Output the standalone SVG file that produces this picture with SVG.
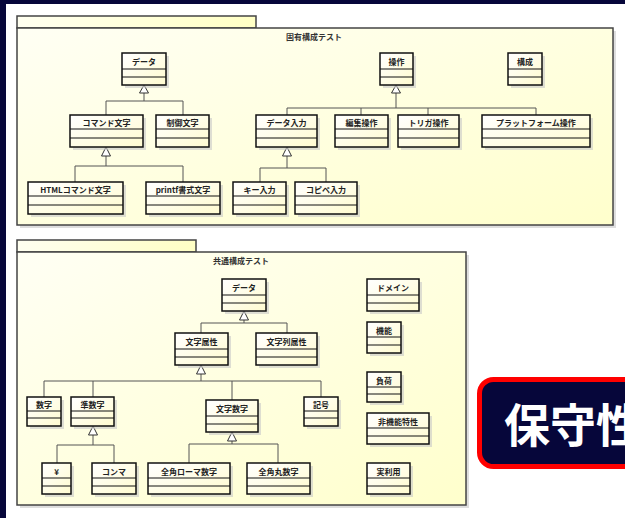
<svg xmlns="http://www.w3.org/2000/svg" width="625" height="518" viewBox="0 0 625 518">
<defs>
<linearGradient id="pkg" x1="0" y1="0" x2="1" y2="1">
<stop offset="0" stop-color="#fffff4"/>
<stop offset="1" stop-color="#ffffcc"/>
</linearGradient>
<linearGradient id="tab" x1="0" y1="0" x2="1" y2="0">
<stop offset="0" stop-color="#fffff0"/>
<stop offset="1" stop-color="#ffffc4"/>
</linearGradient>
<linearGradient id="cls" x1="0" y1="0" x2="1" y2="1">
<stop offset="0" stop-color="#ffffff"/>
<stop offset="1" stop-color="#fffbd0"/>
</linearGradient>
</defs>
<style>
.pk{fill:url(#pkg);stroke:#444;stroke-width:1.5}
.tb{fill:url(#tab);stroke:#444;stroke-width:1.5}
.sh{fill:#c8c8c8;opacity:0.6}
.c rect.b{fill:url(#cls);stroke:#111;stroke-width:1.5}
.c line{stroke:#111;stroke-width:1}
.t{font-family:"Noto Sans CJK JP","Liberation Sans",sans-serif;font-size:8px;font-weight:bold;fill:#222;text-anchor:middle}
.ttl{font-family:"Noto Sans CJK JP","Liberation Sans",sans-serif;font-size:8px;font-weight:bold;fill:#333;text-anchor:middle}
.cn line,.cn polyline{stroke:#555;stroke-width:1;fill:none}
.cn polygon{fill:#fff;stroke:#333;stroke-width:1}
</style>
<rect x="0" y="0" width="625" height="518" fill="#ffffff"/>
<rect x="0" y="0" width="625" height="4" fill="#06063a"/>
<rect x="0" y="0" width="6" height="518" fill="#06063a"/>

<g id="pkg-top">
<rect x="20" y="31" width="596" height="197" class="sh"/>
<rect x="17" y="16" width="239" height="12" class="tb"/>
<rect x="17" y="28" width="596" height="197" class="pk"/>
<text x="314" y="40" class="ttl">固有構成テスト</text>
</g>
<g id="pkg-bottom">
<rect x="20" y="255" width="449" height="253" class="sh"/>
<rect x="17" y="240" width="179" height="12" class="tb"/>
<rect x="17" y="252" width="449" height="253" class="pk"/>
<text x="241" y="264" class="ttl">共通構成テスト</text>
</g>

<g id="connectors" class="cn">
<!-- top: データ -->
<line x1="144" y1="93" x2="144" y2="101"/>
<polyline points="106,115 106,101 183,101 183,115"/>
<polygon points="144,85 139.5,93 148.5,93"/>
<!-- 操作 -->
<line x1="396" y1="93" x2="396" y2="108"/>
<polyline points="287,115 287,108 536,108 536,115"/>
<line x1="361" y1="108" x2="361" y2="115"/>
<line x1="428" y1="108" x2="428" y2="115"/>
<polygon points="396,85 391.5,93 400.5,93"/>
<!-- コマンド文字 -->
<line x1="106" y1="156" x2="106" y2="166"/>
<polyline points="75,182 75,166 183,166 183,182"/>
<polygon points="106,147 101.5,156 110.5,156"/>
<!-- データ入力 -->
<line x1="287" y1="156" x2="287" y2="168"/>
<polyline points="260,182 260,168 326,168 326,182"/>
<polygon points="287,147 282.5,156 291.5,156"/>
<!-- bottom: データ -->
<line x1="244" y1="320" x2="244" y2="323"/>
<polyline points="201,333 201,323 287,323 287,333"/>
<polygon points="244,311 239.5,320 248.5,320"/>
<!-- 文字属性 -->
<line x1="201" y1="374" x2="201" y2="381"/>
<polyline points="44,397 44,381 321,381 321,397"/>
<line x1="93" y1="381" x2="93" y2="397"/>
<line x1="232" y1="381" x2="232" y2="400"/>
<polygon points="201,365 196.5,374 205.5,374"/>
<!-- 準数字 -->
<line x1="93" y1="435" x2="93" y2="445"/>
<polyline points="57,463 57,445 114,445 114,463"/>
<polygon points="93,426 88.5,435 97.5,435"/>
<!-- 文字数字 -->
<line x1="232" y1="441" x2="232" y2="444"/>
<polyline points="189,463 189,444 278,444 278,463"/>
<polygon points="232,432 227.5,441 236.5,441"/>
</g>

<g id="n-data1" class="c"><rect x="125" y="56" width="44" height="32" class="sh"/><rect class="b" x="122" y="53" width="44" height="32"/><line x1="122" y1="69" x2="166" y2="69"/><line x1="122" y1="77" x2="166" y2="77"/><text x="144" y="65" class="t">データ</text></g>
<g id="n-sousa" class="c"><rect x="383" y="56" width="33" height="32" class="sh"/><rect class="b" x="380" y="53" width="33" height="32"/><line x1="380" y1="69" x2="413" y2="69"/><line x1="380" y1="77" x2="413" y2="77"/><text x="396.5" y="65" class="t">操作</text></g>
<g id="n-kousei" class="c"><rect x="511" y="56" width="34" height="32" class="sh"/><rect class="b" x="508" y="53" width="34" height="32"/><line x1="508" y1="69" x2="542" y2="69"/><line x1="508" y1="77" x2="542" y2="77"/><text x="525" y="65" class="t">構成</text></g>

<g id="n-command" class="c"><rect x="73" y="118" width="73" height="32" class="sh"/><rect class="b" x="70" y="115" width="73" height="32"/><line x1="70" y1="129" x2="143" y2="129"/><line x1="70" y1="138" x2="143" y2="138"/><text x="106.5" y="126" class="t">コマンド文字</text></g>
<g id="n-seigyo" class="c"><rect x="159" y="118" width="53" height="32" class="sh"/><rect class="b" x="156" y="115" width="53" height="32"/><line x1="156" y1="129" x2="209" y2="129"/><line x1="156" y1="138" x2="209" y2="138"/><text x="182.5" y="126" class="t">制御文字</text></g>
<g id="n-datainput" class="c"><rect x="259" y="118" width="61" height="32" class="sh"/><rect class="b" x="256" y="115" width="61" height="32"/><line x1="256" y1="129" x2="317" y2="129"/><line x1="256" y1="138" x2="317" y2="138"/><text x="286.5" y="126" class="t">データ入力</text></g>
<g id="n-henshu" class="c"><rect x="338" y="118" width="53" height="32" class="sh"/><rect class="b" x="335" y="115" width="53" height="32"/><line x1="335" y1="129" x2="388" y2="129"/><line x1="335" y1="138" x2="388" y2="138"/><text x="361.5" y="126" class="t">編集操作</text></g>
<g id="n-trigger" class="c"><rect x="401" y="118" width="61" height="32" class="sh"/><rect class="b" x="398" y="115" width="61" height="32"/><line x1="398" y1="129" x2="459" y2="129"/><line x1="398" y1="138" x2="459" y2="138"/><text x="428.5" y="126" class="t">トリガ操作</text></g>
<g id="n-platform" class="c"><rect x="485" y="118" width="108" height="32" class="sh"/><rect class="b" x="482" y="115" width="108" height="32"/><line x1="482" y1="129" x2="590" y2="129"/><line x1="482" y1="138" x2="590" y2="138"/><text x="536" y="126" class="t">プラットフォーム操作</text></g>

<g id="n-html" class="c"><rect x="31" y="185" width="95" height="32" class="sh"/><rect class="b" x="28" y="182" width="95" height="32"/><line x1="28" y1="196" x2="123" y2="196"/><line x1="28" y1="205" x2="123" y2="205"/><text x="75.5" y="193" class="t">HTMLコマンド文字</text></g>
<g id="n-printf" class="c"><rect x="149" y="185" width="74" height="32" class="sh"/><rect class="b" x="146" y="182" width="74" height="32"/><line x1="146" y1="196" x2="220" y2="196"/><line x1="146" y1="205" x2="220" y2="205"/><text x="183" y="193" class="t">printf書式文字</text></g>
<g id="n-key" class="c"><rect x="236" y="185" width="53" height="32" class="sh"/><rect class="b" x="233" y="182" width="53" height="32"/><line x1="233" y1="196" x2="286" y2="196"/><line x1="233" y1="205" x2="286" y2="205"/><text x="259.5" y="193" class="t">キー入力</text></g>
<g id="n-copipe" class="c"><rect x="298" y="185" width="62" height="32" class="sh"/><rect class="b" x="295" y="182" width="62" height="32"/><line x1="295" y1="196" x2="357" y2="196"/><line x1="295" y1="205" x2="357" y2="205"/><text x="326" y="193" class="t">コピペ入力</text></g>

<g id="n-data2" class="c"><rect x="225" y="282" width="44" height="32" class="sh"/><rect class="b" x="222" y="279" width="44" height="32"/><line x1="222" y1="295" x2="266" y2="295"/><line x1="222" y1="303" x2="266" y2="303"/><text x="244" y="291" class="t">データ</text></g>
<g id="n-mojizokusei" class="c"><rect x="178" y="336" width="53" height="32" class="sh"/><rect class="b" x="175" y="333" width="53" height="32"/><line x1="175" y1="349" x2="228" y2="349"/><line x1="175" y1="357" x2="228" y2="357"/><text x="201.5" y="345" class="t">文字属性</text></g>
<g id="n-mojiretsu" class="c"><rect x="259" y="336" width="61" height="32" class="sh"/><rect class="b" x="256" y="333" width="61" height="32"/><line x1="256" y1="349" x2="317" y2="349"/><line x1="256" y1="357" x2="317" y2="357"/><text x="286.5" y="345" class="t">文字列属性</text></g>
<g id="n-domain" class="c"><rect x="370" y="282" width="52" height="32" class="sh"/><rect class="b" x="367" y="279" width="52" height="32"/><line x1="367" y1="295" x2="419" y2="295"/><line x1="367" y1="303" x2="419" y2="303"/><text x="393" y="291" class="t">ドメイン</text></g>
<g id="n-kinou" class="c"><rect x="370" y="325" width="34" height="31" class="sh"/><rect class="b" x="367" y="322" width="34" height="31"/><line x1="367" y1="337" x2="401" y2="337"/><line x1="367" y1="345" x2="401" y2="345"/><text x="384" y="334" class="t">機能</text></g>
<g id="n-fuka" class="c"><rect x="370" y="375" width="34" height="30" class="sh"/><rect class="b" x="367" y="372" width="34" height="30"/><line x1="367" y1="387" x2="401" y2="387"/><line x1="367" y1="394" x2="401" y2="394"/><text x="384" y="384" class="t">負荷</text></g>
<g id="n-hikinou" class="c"><rect x="370" y="416" width="62" height="31" class="sh"/><rect class="b" x="367" y="413" width="62" height="31"/><line x1="367" y1="428" x2="429" y2="428"/><line x1="367" y1="436" x2="429" y2="436"/><text x="398" y="425" class="t">非機能特性</text></g>
<g id="n-jitsuriyou" class="c"><rect x="370" y="466" width="43" height="31" class="sh"/><rect class="b" x="367" y="463" width="43" height="31"/><line x1="367" y1="478" x2="410" y2="478"/><line x1="367" y1="486" x2="410" y2="486"/><text x="388.5" y="475" class="t">実利用</text></g>

<g id="n-suuji" class="c"><rect x="30" y="400" width="34" height="29" class="sh"/><rect class="b" x="27" y="397" width="34" height="29"/><line x1="27" y1="411" x2="61" y2="411"/><line x1="27" y1="418" x2="61" y2="418"/><text x="44" y="408" class="t">数字</text></g>
<g id="n-junsuuji" class="c"><rect x="74" y="400" width="43" height="29" class="sh"/><rect class="b" x="71" y="397" width="43" height="29"/><line x1="71" y1="411" x2="114" y2="411"/><line x1="71" y1="418" x2="114" y2="418"/><text x="92.5" y="408" class="t">準数字</text></g>
<g id="n-mojisuuji" class="c"><rect x="209" y="403" width="52" height="32" class="sh"/><rect class="b" x="206" y="400" width="52" height="32"/><line x1="206" y1="416" x2="258" y2="416"/><line x1="206" y1="424" x2="258" y2="424"/><text x="232" y="412" class="t">文字数字</text></g>
<g id="n-kigou" class="c"><rect x="307" y="400" width="34" height="29" class="sh"/><rect class="b" x="304" y="397" width="34" height="29"/><line x1="304" y1="411" x2="338" y2="411"/><line x1="304" y1="418" x2="338" y2="418"/><text x="321" y="408" class="t">記号</text></g>

<g id="n-yen" class="c"><rect x="45" y="466" width="29" height="31" class="sh"/><rect class="b" x="42" y="463" width="29" height="31"/><line x1="42" y1="478" x2="71" y2="478"/><line x1="42" y1="486" x2="71" y2="486"/><text x="56.5" y="475" class="t">¥</text></g>
<g id="n-comma" class="c"><rect x="95" y="466" width="44" height="31" class="sh"/><rect class="b" x="92" y="463" width="44" height="31"/><line x1="92" y1="478" x2="136" y2="478"/><line x1="92" y1="486" x2="136" y2="486"/><text x="114" y="475" class="t">コンマ</text></g>
<g id="n-roman" class="c"><rect x="151" y="466" width="82" height="31" class="sh"/><rect class="b" x="148" y="463" width="82" height="31"/><line x1="148" y1="478" x2="230" y2="478"/><line x1="148" y1="486" x2="230" y2="486"/><text x="189" y="475" class="t">全角ローマ数字</text></g>
<g id="n-maru" class="c"><rect x="250" y="466" width="63" height="31" class="sh"/><rect class="b" x="247" y="463" width="63" height="31"/><line x1="247" y1="478" x2="310" y2="478"/><line x1="247" y1="486" x2="310" y2="486"/><text x="278.5" y="475" class="t">全角丸数字</text></g>

<g id="callout">
<rect x="479.5" y="379.5" width="170" height="87" rx="14" ry="14" fill="#06063a" stroke="#ff0000" stroke-width="5"/>
<text x="504" y="442" font-family="'Noto Sans CJK JP','Liberation Sans',sans-serif" font-size="46" font-weight="bold" fill="#ffffff">保守性</text>
</g>
</svg>
